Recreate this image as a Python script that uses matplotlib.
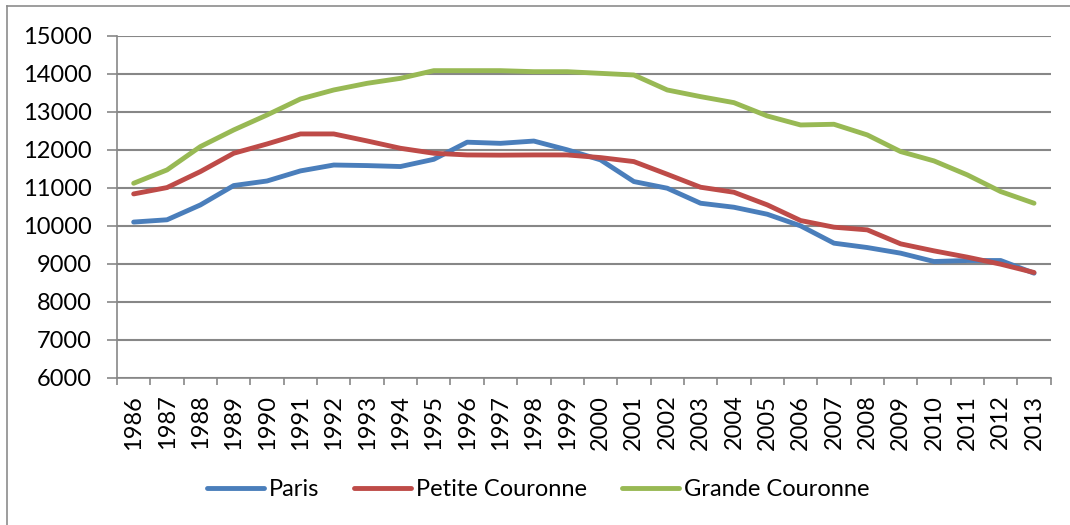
import numpy as np
import matplotlib
matplotlib.use("Agg")
import matplotlib.pyplot as plt
from matplotlib.lines import Line2D

plt.rcParams["font.family"] = ["Lato", "DejaVu Sans"]

years = list(range(1986, 2014))
paris = [10100, 10160, 10550, 11060, 11180, 11445, 11600, 11585, 11560, 11750,
         12200, 12170, 12230, 12000, 11735, 11165, 10990, 10595, 10490, 10306,
         10000, 9545, 9430, 9282, 9063, 9089, 9089, 8756]
petite = [10840, 11007, 11427, 11909, 12154, 12417, 12417, 12233, 12040, 11909,
          11865, 11860, 11865, 11865, 11795, 11690, 11357, 11016, 10884, 10552,
          10140, 9965, 9895, 9527, 9343, 9177, 8993, 8774]
grande = [11120, 11471, 12084, 12522, 12916, 13336, 13573, 13748, 13879, 14081,
          14081, 14081, 14054, 14054, 14010, 13967, 13573, 13398, 13240, 12890,
          12653, 12671, 12391, 11953, 11708, 11340, 10902, 10595]
series_names = ["Paris", "Petite Couronne", "Grande Couronne"]
series_colors = ["#4A7EBB", "#BE4B48", "#98B954"]
y_ticks = list(range(6000, 15001, 1000))

fig = plt.figure(figsize=(10.7, 5.25), dpi=100)
ax = fig.add_axes([117 / 1070, 1 - 378 / 525, (1050.7 - 117) / 1070, (378 - 35.7) / 525])

x = np.arange(len(years))
grid_col = "#878787"
for vals, name, col in zip([paris, petite, grande], series_names, series_colors):
    ax.plot(x, vals, color=col, lw=3.5, label=name, solid_capstyle="round", solid_joinstyle="round")

ax.set_xlim(-0.5, len(years) - 0.5)
ax.set_ylim(6000, 15000)
ax.set_yticks(y_ticks)
ax.set_yticklabels([str(v) for v in y_ticks], fontsize=17)
ax.yaxis.grid(True, color=grid_col, lw=1.5)
ax.set_axisbelow(True)

ax.set_xticks(x)
ax.set_xticklabels([str(y) for y in years], rotation=90, fontsize=17)
ax.set_xticks(np.arange(-0.5, len(years), 1), minor=True)
ax.tick_params(axis="x", which="major", length=0, pad=12)
ax.tick_params(axis="x", which="minor", length=5, width=1.2, color=grid_col, direction="out")
ax.tick_params(axis="y", length=7, width=1.2, color=grid_col, pad=11)

for s in ["top", "right"]:
    ax.spines[s].set_visible(False)
for s in ["left", "bottom"]:
    ax.spines[s].set_color(grid_col)
    ax.spines[s].set_linewidth(1.2)

fig.legend(loc="center", bbox_to_anchor=(0.503, 1 - 490 / 525), ncol=3, frameon=False,
           fontsize=17, handlelength=2.4, handletextpad=0.2, columnspacing=1.5)

# outer chart border (only top and left visible in the crop)
fig.add_artist(Line2D([7 / 1070, 1], [1 - 6 / 525, 1 - 6 / 525], color="#8c8c8c", lw=1.2))
fig.add_artist(Line2D([7 / 1070, 7 / 1070], [0, 1 - 6 / 525], color="#8c8c8c", lw=1.2))

fig.savefig("out.png", dpi=100)
